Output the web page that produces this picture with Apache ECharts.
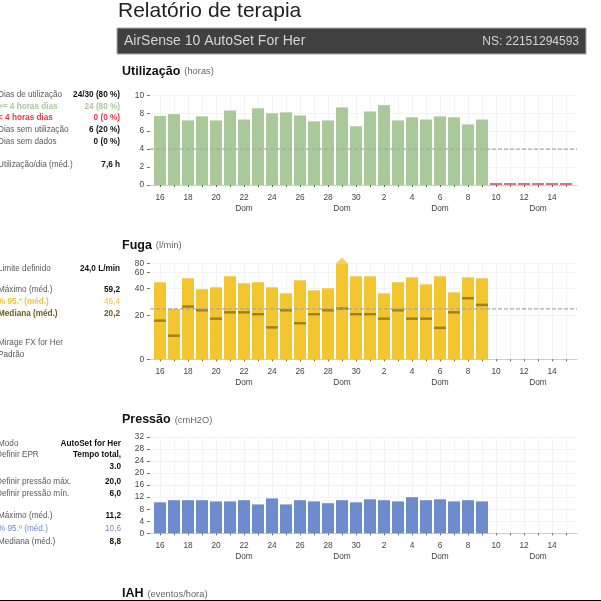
<!DOCTYPE html>
<html lang="pt">
<head>
    <meta charset="UTF-8">
    <title>Relatório de terapia</title>
    <script src="https://cdn.jsdelivr.net/npm/echarts@6/dist/echarts.min.js"></script>
    <style>
        html, body { margin: 0; padding: 0; background: #fff; }
        #chart { width: 601px; height: 601px; }
    </style>
</head>
<body>
    <div id="chart"></div>
    <script>
        const days = ['16','17','18','19','20','21','22','23','24','25','26','27','28','29','30',
                      '1','2','3','4','5','6','7','8','9','10','11','12','13','14','15'];
        const weekdayLabel = 'Dom';

        const usageHours = [7.7,7.9,7.2,7.65,7.2,8.3,7.3,8.55,8.0,8.1,7.75,7.1,7.2,8.65,6.55,
                            8.2,8.9,7.2,7.55,7.3,7.65,7.55,6.75,7.3];
        const usageMissing = [0,0,0,0,0,0];
        const usageThreshold = 4;
        const usageTicks = [0,2,4,6,8,10];

        const leakP95 = [47.7,25,52.8,39.3,41.3,55.3,46.4,47.7,41.3,36.3,50.2,38.5,40,80,55.3,
                         55.3,36.3,47.7,54,45,55.3,37,54,52.8];
        const leakMedian = [17.7,10.8,26.6,23.9,18.6,22.4,22.4,21,14.6,23.9,16.5,21,23.9,25.1,21,
                            21,18.6,23.9,18.6,18.6,14.4,22.4,32.7,27.8];
        const leakOverflowDays = ['29'];
        const leakLimit = 25;
        const leakTicks = [0,20,40,60,80];
        // the report's leak axis is not linear: height of each tick above the baseline, px
        const leakTickHeights = [0,43.7,71,86.7,95.7];

        const pressureP95 = [10.3,11,11,11,10.6,10.6,11,9.6,11.6,9.6,11,10.6,10,11,10.3,
                             11.3,11,10.6,12,11,11.3,10.6,11,10.6];
        const pressureTicks = [0,4,8,12,16,20,24,28,32];

        const usageRows = [
            ['Dias de utilização', '24/30 (80 %)'],
            ['>= 4 horas dias', '24 (80 %)'],
            ['< 4 horas dias', '0 (0 %)'],
            ['Dias sem utilização', '6 (20 %)'],
            ['Dias sem dados', '0 (0 %)'],
            ['Utilização/dia (méd.)', '7,6 h']
        ];
        const leakRows = [
            ['Limite definido', '24,0 L/min'],
            ['Máximo (méd.)', '59,2'],
            ['% 95.º (méd.)', '46,4'],
            ['Mediana (méd.)', '20,2'],
            ['Mirage FX for Her', ''],
            ['Padrão', '']
        ];
        const pressureRows = [
            ['Modo', 'AutoSet for Her'],
            ['Definir EPR', 'Tempo total,'],
            ['', '3.0'],
            ['Definir pressão máx.', '20,0'],
            ['Definir pressão mín.', '6,0'],
            ['Máximo (méd.)', '11,2'],
            ['% 95.º (méd.)', '10,6'],
            ['Mediana (méd.)', '8,8']
        ];

        const FONT = '"Liberation Sans", Arial, sans-serif';
        const GREEN = '#a9c99b';
        const YELLOW = '#f3c52f';
        const BLUE = '#6d8bcd';
        const RED = '#e0717c';
        const GRIDLINE = '#f3f3f3';

        // piecewise map of a leak reading onto the axis, between the printed ticks
        const leakToAxis = (v) => {
            for (let i = 1; i < leakTicks.length; i++) {
                if (v <= leakTicks[i]) {
                    const t = (v - leakTicks[i - 1]) / (leakTicks[i] - leakTicks[i - 1]);
                    return leakTickHeights[i - 1] + t * (leakTickHeights[i] - leakTickHeights[i - 1]);
                }
            }
            return leakTickHeights[leakTickHeights.length - 1];
        };

        const panels = [
            {top: 95.3, height: 89.7, max: 10, ticks: usageTicks},
            {top: 263.6, height: 95.7, max: 95.7, ticks: leakTickHeights,
             label: (v) => leakTicks[leakTickHeights.indexOf(v)]},
            {top: 437, height: 96.3, max: 32, ticks: pressureTicks}
        ];

        const grid = [], xAxis = [], yAxis = [], series = [];

        panels.forEach((p, n) => {
            // outer grid: horizontal rules, y labels and the baseline, a little wider than the bars
            grid.push({left: 150, width: 427, top: p.top, height: p.height});
            xAxis.push({
                type: 'value', gridIndex: n * 2, min: 0, max: 1, show: true,
                axisLine: {show: true, onZero: false, lineStyle: {color: '#cfcfcf', width: 1}},
                axisTick: {show: false}, axisLabel: {show: false}, splitLine: {show: false}
            });
            yAxis.push({
                type: 'value', gridIndex: n * 2, min: 0, max: p.max,
                axisLine: {show: false},
                axisTick: {show: true, length: 3, customValues: p.ticks, lineStyle: {color: '#777'}},
                axisLabel: {
                    customValues: p.ticks, margin: 6, fontSize: 8.3, color: '#444', fontFamily: FONT,
                    formatter: (v) => String(p.label ? p.label(v) : v)
                },
                splitLine: {show: true, lineStyle: {color: GRIDLINE, width: 1}}
            });
            // inner grid: the day bands
            grid.push({left: 153, width: 420, top: p.top, height: p.height});
            xAxis.push({
                type: 'category', gridIndex: n * 2 + 1, data: days,
                axisLine: {show: false},
                axisTick: {show: true, alignWithLabel: true, interval: 0, length: 2, lineStyle: {color: '#666'}},
                axisLabel: {
                    interval: 0, margin: 7, fontSize: 8.3, lineHeight: 11, color: '#444', fontFamily: FONT,
                    formatter: (v, i) => (i % 2 === 0 ? v : '') + (i % 7 === 6 ? '\n' + weekdayLabel : '')
                },
                splitLine: {show: true, alignWithLabel: true, interval: 0, lineStyle: {color: GRIDLINE, width: 1}}
            });
            yAxis.push({type: 'value', gridIndex: n * 2 + 1, min: 0, max: p.max, show: false, splitLine: {show: false}});
        });

        const barSeries = (panel, values, color, extra) => Object.assign({
            type: 'bar', xAxisIndex: panel * 2 + 1, yAxisIndex: panel * 2 + 1,
            data: values, barWidth: 12, barGap: '-100%', silent: true,
            itemStyle: {color: color}
        }, extra);

        // dashed limit line, kept on the outer grid so that it runs past the bars
        const thresholdSeries = (panel, value) => ({
            type: 'line', xAxisIndex: panel * 2, yAxisIndex: panel * 2, silent: true, z: 10,
            symbol: 'none', lineStyle: {color: '#a8a8a8', type: [4, 2], width: 1.3},
            data: [[0, value], [1, value]]
        });

        series.push(barSeries(0, usageHours, GREEN));
        series.push(barSeries(0, new Array(usageHours.length).fill(null).concat(usageMissing), RED, {barMinHeight: 2}));
        series.push(thresholdSeries(0, usageThreshold));

        series.push(barSeries(1, leakP95.map(leakToAxis), YELLOW));
        series.push({
            type: 'scatter', xAxisIndex: 3, yAxisIndex: 3, silent: true, clip: false, z: 3,
            symbol: 'triangle', symbolSize: [12, 6], symbolOffset: [0, -3],
            itemStyle: {color: YELLOW},
            data: leakOverflowDays.map((d) => [d, leakToAxis(leakTicks[leakTicks.length - 1])])
        });
        series.push({
            type: 'scatter', xAxisIndex: 3, yAxisIndex: 3, silent: true, z: 4,
            symbol: 'rect', symbolSize: [12, 2.5],
            itemStyle: {color: '#8a7118'},
            data: leakMedian.map((v, i) => [days[i], leakToAxis(v)])
        });
        series.push(thresholdSeries(1, leakToAxis(leakLimit)));

        series.push(barSeries(2, pressureP95, BLUE));

        const text = (x, y, str, opts) => ({
            type: 'text', x: x, y: y, silent: true,
            style: Object.assign({
                text: str, fontFamily: FONT, fontSize: 8.2, fill: '#5a5a5a', verticalAlign: 'middle'
            }, opts)
        });

        const tableRows = (rows, ys, styles) => {
            const out = [];
            rows.forEach((row, i) => {
                const s = styles[i] || {};
                if (row[0]) out.push(text(s.labelX === undefined ? -2 : s.labelX, ys[i], row[0], s.label || {}));
                if (row[1]) out.push(text(s.valueX || 120, ys[i], row[1],
                    Object.assign({align: 'right', fontWeight: 'bold', fill: '#111'}, s.value || {})));
            });
            return out;
        };

        const sectionTitle = (y, name, unit) => text(122, y, `{a|${name}}{b|${unit}}`, {
            rich: {
                a: {fontFamily: FONT, fontSize: 12.5, fontWeight: 'bold', fill: '#111'},
                b: {fontFamily: FONT, fontSize: 9.3, fill: '#666', padding: [0, 0, 0, 4]}
            }
        });

        const graphic = [
            text(118, 11, 'Relatório de terapia', {fontSize: 21, fill: '#222'}),
            {type: 'rect', silent: true, shape: {x: 117, y: 28, width: 469, height: 26},
             style: {fill: '#404040', stroke: '#aaa', lineWidth: 1}},
            text(124, 41.5, 'AirSense 10 AutoSet For Her', {fontSize: 14, fill: '#d4d4d4'}),
            text(579, 41.5, 'NS: 22151294593', {fontSize: 12, fill: '#d4d4d4', align: 'right'}),
            sectionTitle(71.5, 'Utilização', '(horas)'),
            sectionTitle(245.5, 'Fuga', '(l/min)'),
            sectionTitle(420, 'Pressão', '(cmH2O)'),
            sectionTitle(594, 'IAH', '(eventos/hora)'),
            {type: 'rect', silent: true, shape: {x: 0, y: 600, width: 601, height: 1}, style: {fill: '#000'}}
        ].concat(
            tableRows(usageRows, [95, 107, 118, 130, 142, 165], [
                {},
                {label: {fill: '#a9c99b', fontWeight: 'bold'}, value: {fill: '#a9c99b'}},
                {label: {fill: '#e8344a', fontWeight: 'bold'}, value: {fill: '#e8344a'}}
            ]),
            tableRows(leakRows, [268.7, 289.7, 302, 313.7, 342.7, 354.7], [
                {},
                {},
                {label: {fill: '#f3c52f', fontWeight: 'bold'}, value: {fill: '#f3c52f', fontWeight: 'normal'}},
                {label: {fill: '#6e5a1a', fontWeight: 'bold'}, value: {fill: '#6e5a1a'}}
            ]),
            tableRows(pressureRows, [443.7, 455, 466.7, 482, 494, 515.7, 528.7, 541.7], [
                {valueX: 121},
                {labelX: -4, valueX: 121},
                {valueX: 121},
                {labelX: -4, valueX: 121},
                {labelX: -4, valueX: 121},
                {valueX: 121},
                {valueX: 121, label: {fill: '#6d8bcd'}, value: {fill: '#6d8bcd', fontWeight: 'normal'}},
                {valueX: 121}
            ])
        );

        const chart = echarts.init(document.getElementById('chart'));
        chart.setOption({
            animation: false,
            grid: grid, xAxis: xAxis, yAxis: yAxis, series: series, graphic: graphic
        });
    </script>
</body>
</html>
